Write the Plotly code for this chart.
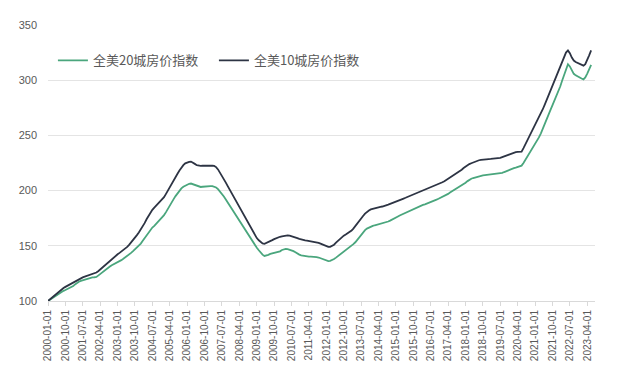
import pandas as pd
import plotly.graph_objects as go

start_month = "2000-01-01"

idx20 = [
    100, 101.2, 102.5, 103.8, 105, 106.2, 107.3, 108.3, 109.2, 110, 110.8, 111.5,
    112.5, 113.5, 115, 116.5, 117.5, 118.2, 118.8, 119.3, 119.8, 120.3, 120.8, 121.3,
    121.5, 121.8, 123, 124.5, 126, 127.5, 128.8, 130, 131.2, 132.4, 133.2, 134,
    135, 136, 137, 138.2, 139.4, 140.6, 142, 143.6, 145.2, 146.8, 148.4, 150,
    152, 154.5, 157, 159.5, 162, 164.5, 166.5, 168, 169.8, 171.6, 173.5, 175.4,
    177.8, 180.5, 183.5, 186.5, 189.5, 192.3, 195, 197.5, 199.8, 202, 203.5, 204.5,
    205.5, 206.2, 206.4, 205.8, 204.8, 204, 203.5, 203.3, 203.5, 203.8, 204, 204.1,
    204.1, 204, 203.6, 202.8, 201.3, 199.3, 197, 194.6, 192, 189.3, 186.5, 183.5,
    180.7, 177.9, 175.1, 172.3, 169.5, 166.7, 163.9, 161.1, 158.3, 155.6, 153, 150.5,
    148.2, 146, 143.9, 142, 140.8, 141, 141.8, 142.6, 143, 143.3, 143.6, 144,
    145, 146.2, 146.8, 147.2, 147, 146.6, 146, 145.2, 144.2, 143, 142, 141.4,
    141, 140.7, 140.4, 140.2, 140.2, 140.2, 140.1, 139.8, 139.4, 138.8, 138, 137.3,
    136.5, 136.2, 136.4, 137, 138, 139.3, 140.6, 141.8, 143, 144.2, 145.5, 147,
    148.5, 150, 151.5, 153.2, 155.3, 157.7, 160.2, 162.5, 164.2, 165.6, 166.6, 167.4,
    168, 168.6, 169, 169.4, 169.8, 170.1, 170.6, 171.2, 172, 172.8, 173.6, 174.4,
    175.6, 176.6, 177.5, 178.3, 179.1, 179.9, 180.8, 181.7, 182.6, 183.5, 184.4, 185.3,
    186, 186.6, 187.1, 187.6, 188.2, 188.8, 189.5, 190.2, 191, 191.8, 192.6, 193.4,
    194.2, 195, 195.9, 197, 198.2, 199.3, 200.2, 201.1, 202.2, 203.3, 204.5, 205.8,
    207.2, 208.6, 209.8, 210.7, 211.4, 212, 212.6, 213.1, 213.5, 213.8, 214, 214.2,
    214.3, 214.4, 214.5, 214.6, 214.8, 215, 215.4, 216, 216.8, 217.6, 218.4, 219.2,
    219.8, 220.3, 220.8, 221.4, 222, 222.6, 225, 228, 230.6, 233.2, 235.8, 238.6,
    241.6, 244.8, 248.2, 251.9, 255.8, 260, 264.5, 269.2, 273.4, 277.5, 281.6, 285.8,
    290.2, 294.5, 299.5, 305, 310.5, 314.5, 312.5, 308.8, 305.8, 304.4, 303.3, 302.2,
    301.5, 300.8, 302.5, 306, 310, 313.8,
]

idx10 = [
    100, 101.5, 103, 104.6, 106.2, 107.8, 109.2, 110.5, 111.7, 112.8, 113.8, 114.8,
    115.8, 116.9, 118, 119, 119.9, 120.7, 121.4, 122, 122.6, 123.2, 123.8, 124.4,
    125, 125.8, 127, 128.6, 130.3, 132, 133.7, 135.3, 136.8, 138.2, 139.6, 141,
    142.3, 143.6, 144.8, 146, 147.4, 149, 150.8, 152.8, 155, 157.3, 159.7, 162,
    164.5, 167.3, 170.5, 174, 177.3, 180.2, 182.6, 184.6, 186.4, 188, 189.6, 191.4,
    194, 197, 200, 203, 206, 209, 212.2, 215.3, 218.2, 220.8, 223, 224.7,
    225.6, 226.1, 226.3, 225.5, 224.2, 223, 222.5, 222.4, 222.5, 222.6, 222.7, 222.7,
    222.7, 222.6, 222.4, 221.3, 219.2, 216.4, 213.4, 210.3, 207.2, 204, 200.8, 197.6,
    194.4, 191.2, 188, 184.8, 181.6, 178.3, 175, 171.7, 168.5, 165.3, 162.2, 159.5,
    157, 155, 153.3, 152.1, 151.8, 152.5, 153.3, 154.2, 155.1, 156, 156.9, 157.6,
    158.2, 158.6, 159, 159.3, 159.4, 159.2, 158.8, 158.2, 157.6, 156.9, 156.2, 155.6,
    155.2, 154.9, 154.6, 154.3, 154.1, 153.9, 153.7, 153.3, 152.7, 152, 151.2, 150.4,
    149.6, 149.1, 149, 149.8, 151, 152.8, 154.6, 156.3, 157.8, 159.2, 160.3, 161.3,
    162.3, 163.8, 165.6, 167.7, 170, 172.3, 174.6, 177, 179.2, 180.8, 182, 183,
    183.6, 184.2, 184.6, 185, 185.3, 185.6, 186, 186.6, 187.3, 188, 188.8, 189.6,
    190.3, 191, 191.6, 192.2, 192.8, 193.5, 194.2, 195, 195.8, 196.6, 197.4, 198.2,
    198.8, 199.4, 200, 200.6, 201.3, 202, 202.8, 203.6, 204.4, 205.2, 206, 206.8,
    207.6, 208.5, 209.5, 210.6, 211.7, 212.8, 213.8, 214.8, 216, 217.4, 218.9, 220.4,
    221.9, 223.1, 224, 224.8, 225.6, 226.3, 227, 227.5, 227.9, 228.2, 228.4, 228.5,
    228.6, 228.7, 228.8, 228.9, 229, 229.2, 229.6, 230.3, 231, 231.8, 232.6, 233.4,
    234.1, 234.5, 234.8, 235, 235.1, 235.3, 238.5, 242, 245.5, 249, 252.5, 256,
    259, 262.5, 266, 269.8, 273.7, 277.8, 282, 286.3, 290.6, 295, 299.5, 303.8,
    307.5, 312, 316.5, 321, 325, 327, 324.5, 320.5, 317.8, 316.5, 315.5, 314.6,
    313.8, 313.2, 314.5, 318, 322.5, 327,
]

tick_labels = [
    "2000-01-01", "2000-10-01", "2001-07-01", "2002-04-01", "2003-01-01", "2003-10-01",
    "2004-07-01", "2005-04-01", "2006-01-01", "2006-10-01", "2007-07-01", "2008-04-01",
    "2009-01-01", "2009-10-01", "2010-07-01", "2011-04-01", "2012-01-01", "2012-10-01",
    "2013-07-01", "2014-04-01", "2015-01-01", "2015-10-01", "2016-07-01", "2017-04-01",
    "2018-01-01", "2018-10-01", "2019-07-01", "2020-04-01", "2021-01-01", "2021-10-01",
    "2022-07-01", "2023-04-01",
]

y_ticks = [100, 150, 200, 250, 300, 350]

name20 = "全美20城房价指数"
name10 = "全美10城房价指数"

dates = pd.date_range(start_month, periods=len(idx20), freq="MS").strftime("%Y-%m-%d").tolist()

fig = go.Figure()
fig.add_trace(go.Scatter(x=dates, y=idx20, mode="lines", name=name20,
                         line=dict(color="#4aa67d", width=1.8)))
fig.add_trace(go.Scatter(x=dates, y=idx10, mode="lines", name=name10,
                         line=dict(color="#2d3444", width=1.8)))

# page body has an 8px default margin, so the figure is sized and offset accordingly
fig.update_layout(
    width=619, height=364,
    margin=dict(l=34, r=32, t=11, b=70),
    paper_bgcolor="white", plot_bgcolor="white",
    font=dict(family="Noto Sans CJK SC, Liberation Sans, sans-serif", color="#595959"),
    showlegend=True,
    legend=dict(orientation="h", x=0.009, y=0.872, xanchor="left", yanchor="middle",
                font=dict(size=13, color="#595959"), bgcolor="rgba(0,0,0,0)",
                entrywidth=116, itemwidth=30),
)
fig.update_xaxes(
    type="date",
    range=["2000-01-01", "2023-08-01"],
    tickmode="array", tickvals=tick_labels, ticktext=tick_labels,
    tickangle=-90, tickfont=dict(size=10, family="Liberation Sans, sans-serif", color="#595959"),
    showgrid=False, showline=True, linecolor="#d9d9d9", linewidth=1,
    ticks="outside", ticklen=4, tickcolor="#d9d9d9",
)
fig.update_yaxes(
    range=[100, 350], tickvals=y_ticks,
    tickfont=dict(size=11, family="Liberation Sans, sans-serif", color="#595959"),
    showgrid=True, gridcolor="#e4e4e4", gridwidth=1, zeroline=False, showline=False,
    ticks="", ticklabelstandoff=10,
)

fig.write_html("out.html")
